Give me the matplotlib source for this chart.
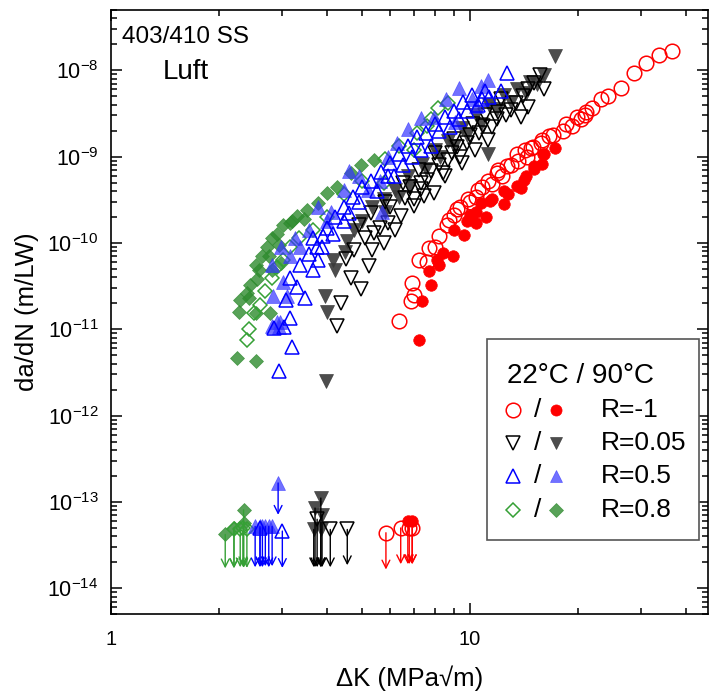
import numpy as np
import matplotlib
matplotlib.use("Agg")
import matplotlib.pyplot as plt
import matplotlib.ticker as mticker
from matplotlib.patches import Rectangle

plt.rcParams['font.family'] = ['Liberation Sans', 'DejaVu Sans']
plt.rcParams['mathtext.default'] = 'regular'

# ── data (dK in MPa*sqrt(m), da/dN in m/LW) ────────────────────────────────
# R=-1, 22 C (open circles) / 90 C (filled circles)
dk_r22 = [6.35, 6.85, 6.9, 7.2, 7.7, 8.2, 8.75, 9.2, 9.85, 10.5, 11.2, 11.9,
          12.7, 13.6, 14.4, 15.8, 16.6, 7.0, 7.6, 8.0, 8.6, 9.0, 9.4, 10.0,
          10.4, 10.8, 11.5, 12.3, 13.0, 13.5, 14.2, 15.0, 15.9, 17.0, 18.1,
          19.2, 20.4, 20.9, 21.9, 23.2, 24.2, 26.4, 28.7, 31.0, 33.7, 36.4,
          12.0, 14.8, 18.5, 19.8, 21.0]
dadn_r22 = [1.24e-11, 2.1e-11, 3.45e-11, 6.4e-11, 8.8e-11, 1.19e-10, 1.87e-10,
            2.45e-10, 3.2e-10, 4.15e-10, 5.2e-10, 6.5e-10, 7.7e-10, 8.8e-10,
            1.0e-9, 1.44e-9, 1.72e-9, 2.5e-11, 6.0e-11, 9.0e-11, 1.6e-10,
            2.1e-10, 2.6e-10, 3.0e-10, 3.4e-10, 4.5e-10, 4.8e-10, 6.0e-10,
            8.0e-10, 1.06e-9, 1.19e-9, 1.3e-9, 1.57e-9, 1.8e-9, 1.96e-9,
            2.25e-9, 2.7e-9, 3.07e-9, 3.67e-9, 4.6e-9, 5.0e-9, 6.25e-9,
            9.3e-9, 1.22e-8, 1.52e-8, 1.66e-8, 7.0e-10, 1.25e-9, 2.4e-9,
            2.9e-9, 3.3e-9]
dk_r90 = [7.23, 7.35, 7.8, 7.7, 8.1, 8.95, 8.4, 9.6, 10.4, 11.1, 10.0, 10.7,
          12.4, 11.5, 12.4, 13.9, 14.1, 15.1, 16.0, 16.1, 17.2, 15.1, 9.0,
          9.8, 11.4, 12.75, 13.5, 14.3, 15.9, 8.2, 10.4]
dadn_r90 = [7.6e-12, 2.1e-11, 3.3e-11, 4.7e-11, 6.4e-11, 7.1e-11, 7.7e-11,
            1.25e-10, 1.7e-10, 2.0e-10, 2.1e-10, 2.9e-10, 2.8e-10, 3.2e-10,
            4.0e-10, 4.3e-10, 5.4e-10, 7.1e-10, 1.06e-9, 1.06e-9, 1.26e-9,
            7.7e-10, 1.43e-10, 1.8e-10, 3.07e-10, 3.66e-10, 4.6e-10, 5.9e-10,
            8.3e-10, 5.6e-11, 2.3e-10]

# R=0.05, 22 C (open down triangles) / 90 C (filled down triangles)
dk_b22 = [4.27, 4.36, 4.96, 4.65, 5.23, 4.74, 5.34, 5.77, 6.16, 6.43, 5.9, 7.0,
          7.3, 7.0, 7.45, 7.95, 8.5, 9.5, 10.3, 5.6, 5.4, 15.7, 16.1, 14.5,
          13.9, 13.0, 12.2, 11.9, 10.9, 11.2, 9.8, 9.4, 8.7, 8.4, 7.6, 7.3,
          14.5, 15.1, 6.0, 6.6, 6.8, 7.8, 8.2, 8.9, 9.2, 10.0, 10.6, 11.5,
          12.0, 12.6, 13.4, 14.0, 11.0, 10.2, 9.0, 8.0, 7.2, 6.5, 5.8, 5.3,
          4.9, 5.1, 4.5]
dadn_b22 = [1.08e-11, 2.0e-11, 2.9e-11, 3.9e-11, 5.4e-11, 8.4e-11, 8.4e-11,
            1.0e-10, 1.4e-10, 2.04e-10, 1.7e-10, 3.2e-10, 5.0e-10, 2.7e-10,
            3.5e-10, 3.8e-10, 6.0e-10, 8.5e-10, 1.2e-9, 1.5e-10, 1.3e-10,
            8.9e-9, 6.0e-9, 3.8e-9, 2.9e-9, 3.5e-9, 4.6e-9, 2.7e-9, 2.25e-9,
            1.57e-9, 1.44e-9, 1.0e-9, 9.2e-10, 6.5e-10, 5.4e-10, 4.2e-10,
            6.0e-9, 7.1e-9, 2.6e-10, 3.3e-10, 4.4e-10, 6.8e-10, 8.0e-10,
            1.1e-9, 1.3e-9, 1.8e-9, 1.9e-9, 2.2e-9, 3.3e-9, 3.0e-9, 4.2e-9,
            5.0e-9, 3.0e-9, 2.4e-9, 1.6e-9, 1.1e-9, 7.0e-10, 5.0e-10, 3.0e-10,
            2.2e-10, 1.6e-10, 1.15e-10, 6.5e-11]
dk_b90 = [3.96, 4.0, 3.95, 4.2, 4.15, 4.48, 4.55, 4.75, 5.0, 5.33, 5.74, 6.17,
          6.73, 7.35, 8.0, 8.7, 9.5, 10.4, 11.3, 12.4, 13.5, 14.7, 16.1, 17.2,
          11.2, 15.4, 5.8, 6.35, 6.8, 7.55, 8.25, 9.0, 9.8, 10.7, 11.9, 13.0,
          14.3]
dadn_b90 = [2.5e-12, 1.6e-11, 2.45e-11, 4.9e-11, 6.3e-11, 7.9e-11, 1.05e-10,
            1.43e-10, 1.8e-10, 2.6e-10, 3.2e-10, 4.1e-10, 5.9e-10, 8.3e-10,
            1.19e-9, 1.5e-9, 2.14e-9, 3.0e-9, 4.0e-9, 5.2e-9, 6.1e-9, 7.4e-9,
            8.8e-9, 1.45e-8, 1.06e-9, 6.9e-9, 2.3e-10, 3.4e-10, 4.6e-10,
            7.2e-10, 1.0e-9, 1.34e-9, 1.8e-9, 2.4e-9, 3.6e-9, 4.3e-9, 5.5e-9]

# R=0.5, 22 C (open up triangles) / 90 C (filled up triangles)
dk_u22 = [2.93, 3.2, 3.16, 2.84, 3.04, 3.46, 3.07, 3.3, 3.65, 3.15, 3.78, 3.87,
          3.65, 4.0, 4.2, 4.45, 4.73, 5.0, 5.3, 5.65, 6.0, 6.35, 6.73, 7.1,
          7.55, 8.0, 8.5, 9.0, 9.55, 10.1, 11.0, 12.2, 12.7, 11.3, 7.8, 6.15,
          4.45, 4.15, 3.75, 3.35, 5.5, 5.9, 6.5, 6.9, 7.3, 8.2, 8.8, 9.3, 9.8,
          10.5, 10.8, 4.9, 4.6, 3.9, 3.55]
dadn_u22 = [3.3e-12, 6.3e-12, 1.36e-11, 1.03e-11, 1.05e-11, 2.3e-11, 2.2e-11,
            3.1e-11, 4.9e-11, 3.9e-11, 6.3e-11, 8.9e-11, 1.13e-10, 1.5e-10,
            2.0e-10, 2.6e-10, 3.4e-10, 4.4e-10, 5.2e-10, 6.6e-10, 8.4e-10,
            1.06e-9, 1.34e-9, 1.7e-9, 1.9e-9, 2.4e-9, 2.85e-9, 3.4e-9, 4.3e-9,
            5.2e-9, 5.8e-9, 5.8e-9, 9.3e-9, 4.9e-9, 1.34e-9, 5.9e-10, 1.8e-10,
            1.27e-10, 8.9e-11, 5.5e-11, 4.0e-10, 6.0e-10, 8.0e-10, 1.0e-9,
            1.2e-9, 2.0e-9, 2.2e-9, 2.7e-9, 3.4e-9, 4.0e-9, 4.6e-9, 3.0e-10,
            2.2e-10, 1.2e-10, 7.5e-11]
dk_u90 = [2.94, 3.1, 2.96, 2.83, 2.81, 2.9, 4.6, 4.9, 5.9, 6.26, 6.7, 7.3,
          7.95, 8.55, 9.1, 10.1, 9.34, 10.7, 11.2, 10.4, 5.2, 5.6, 4.45, 3.76,
          4.1, 3.55, 3.25, 4.0, 2.97, 2.8, 3.15, 3.02, 3.35, 5.7]
dadn_u90 = [1.07e-11, 2.4e-11, 1.2e-11, 2.4e-11, 1.1e-11, 1.2e-11, 6.8e-10,
            5.9e-10, 1.0e-9, 1.44e-9, 2.1e-9, 2.8e-9, 2.9e-9, 4.6e-9, 2.55e-9,
            4.6e-9, 6.25e-9, 6.5e-9, 7.8e-9, 3.85e-9, 4.1e-10, 5.2e-10,
            4.1e-10, 2.6e-10, 2.3e-10, 1.43e-10, 1.13e-10, 1.8e-10, 8.9e-11,
            5.6e-11, 7.1e-11, 3.5e-11, 8.9e-11, 2.3e-10]

# R=0.8, 22 C (open diamonds) / 90 C (filled diamonds)
dk_g22 = [2.39, 2.43, 2.5, 2.6, 2.68, 2.81, 2.89, 3.02, 3.15, 3.34, 3.65, 4.0,
          4.45, 5.0, 5.8, 6.35, 7.1, 7.8, 8.12, 8.67, 7.6, 7.0, 5.75]
dadn_g22 = [7.5e-12, 1.0e-11, 1.55e-11, 1.9e-11, 2.8e-11, 3.9e-11, 5.3e-11,
            6.3e-11, 9.0e-11, 1.13e-10, 1.43e-10, 2.0e-10, 3.66e-10, 5.2e-10,
            9.5e-10, 1.34e-9, 1.9e-9, 2.7e-9, 3.7e-9, 4.2e-9, 2.25e-9, 1.2e-9,
            5.0e-10]
dk_g90 = [2.24, 2.54, 2.27, 2.42, 2.44, 2.58, 2.75, 2.93, 3.16, 3.3, 3.52, 3.76,
          4.0, 2.78, 2.97, 2.72, 2.55, 2.81, 4.96, 5.4, 4.65, 4.27, 3.44, 3.2,
          3.02, 2.89, 2.81, 2.64, 2.53, 2.39, 2.29, 2.53]
dadn_g90 = [4.7e-12, 4.3e-12, 1.6e-11, 2.3e-11, 3.3e-11, 4.9e-11, 7.0e-11,
            9.6e-11, 1.72e-10, 2.04e-10, 2.43e-10, 2.91e-10, 3.8e-10, 1.55e-11,
            5.9e-11, 9.1e-11, 3.8e-11, 4.9e-11, 8.1e-10, 9.2e-10, 6.5e-10,
            4.5e-10, 1.9e-10, 1.8e-10, 1.6e-10, 1.26e-10, 1.14e-10, 7.1e-11,
            5.6e-11, 2.6e-11, 2.2e-11, 1.55e-11]

# run-outs (no growth): marker value and where the arrow ends
run_r22_dk, run_r22_dadn, run_r22_tip = [5.83, 6.41, 6.77, 6.9], [4.4e-14, 5.0e-14, 5.0e-14, 5.0e-14], [1.65e-14, 1.9e-14, 1.9e-14, 1.9e-14]
run_r90_dk, run_r90_dadn, run_r90_tip = [6.71, 6.9], [6.0e-14, 6.0e-14], [1.9e-14, 1.9e-14]
run_b22_dk, run_b22_dadn, run_b22_tip = [3.75, 4.08, 4.55], [6.3e-14, 4.8e-14, 4.8e-14], [1.75e-14, 1.75e-14, 1.85e-14]
run_b90_dk, run_b90_dadn, run_b90_tip = [3.84, 3.7, 3.87, 3.67, 3.84], [1.11e-13, 8.5e-14, 7.1e-14, 4.8e-14, 4.8e-14], [1.75e-14, 1.75e-14, 1.75e-14, 1.75e-14, 1.75e-14]
run_u22_dk, run_u22_dadn, run_u22_tip = [2.6, 3.0], [5.0e-14, 4.6e-14], [1.75e-14, 1.72e-14]
run_u90_dk, run_u90_dadn, run_u90_tip = [2.52, 2.6, 2.64, 2.69, 2.75, 2.81, 2.92], [5.2e-14] * 6 + [1.66e-13], [1.75e-14, 1.8e-14, 1.75e-14, 1.8e-14, 1.75e-14, 1.8e-14, 7.1e-14]
run_g22_dk, run_g22_dadn, run_g22_tip = [2.2, 2.29, 2.39, 2.33], [4.8e-14, 4.8e-14, 4.8e-14, 5.0e-14], [1.72e-14, 1.75e-14, 1.72e-14, 1.8e-14]
run_g90_dk, run_g90_dadn, run_g90_tip = [2.08, 2.34, 2.34, 2.2], [4.2e-14, 8.1e-14, 5.7e-14, 5.0e-14], [1.7e-14, 1.72e-14, 1.75e-14, 1.7e-14]

legend_labels = ['R=-1', 'R=0.05', 'R=0.5', 'R=0.8']

RED = '#ff0000'
BLACK = '#000000'
GRAY = '#3a3a3a'
BLUE = '#0000ff'
BLUE_F = '#3535ff'
GREEN = '#35a035'
GREEN_F = '#2e8b2e'

# (dk, dadn, marker, ms, open?, color, alpha)
series = [
    (dk_g90, dadn_g90, 'D', 7.0, False, GREEN_F, 0.8),
    (dk_g22, dadn_g22, 'D', 7.0, True, GREEN, 1.0),
    (dk_b90, dadn_b90, 'v', 9.5, False, GRAY, 0.9),
    (dk_b22, dadn_b22, 'v', 10.5, True, BLACK, 1.0),
    (dk_u90, dadn_u90, '^', 9.5, False, BLUE_F, 0.7),
    (dk_u22, dadn_u22, '^', 10.5, True, BLUE, 1.0),
    (dk_r90, dadn_r90, 'o', 8.3, False, RED, 1.0),
    (dk_r22, dadn_r22, 'o', 10.5, True, RED, 1.0),
]
runouts = [
    (run_g90_dk, run_g90_dadn, run_g90_tip, 'D', 7.0, False, GREEN_F, 0.8),
    (run_g22_dk, run_g22_dadn, run_g22_tip, 'D', 7.0, True, GREEN, 1.0),
    (run_b90_dk, run_b90_dadn, run_b90_tip, 'v', 9.5, False, GRAY, 0.9),
    (run_b22_dk, run_b22_dadn, run_b22_tip, 'v', 10.5, True, BLACK, 1.0),
    (run_u90_dk, run_u90_dadn, run_u90_tip, '^', 9.5, False, BLUE_F, 0.7),
    (run_u22_dk, run_u22_dadn, run_u22_tip, '^', 10.5, True, BLUE, 1.0),
    (run_r90_dk, run_r90_dadn, run_r90_tip, 'o', 8.3, False, RED, 1.0),
    (run_r22_dk, run_r22_dadn, run_r22_tip, 'o', 10.5, True, RED, 1.0),
]


def marker_kw(marker, ms, hollow, color, alpha):
    if hollow:
        return dict(marker=marker, ms=ms, mfc='none', mec=color, mew=1.1,
                    alpha=alpha, linestyle='none')
    return dict(marker=marker, ms=ms, mfc=color, mec=color, mew=0.5,
                alpha=alpha, linestyle='none')


fig = plt.figure(figsize=(7.09, 6.93), dpi=100)
ax = fig.add_axes([0.1566, 0.1136, 0.842, 0.872])
ax.set_xscale('log')
ax.set_yscale('log')

for dk, dadn, m, ms, hollow, c, a in series:
    ax.plot(dk, dadn, **marker_kw(m, ms, hollow, c, a))

# run-out arrows
arrow_col = {GREEN_F: GREEN, GRAY: BLACK, BLUE_F: BLUE}
for dk, dadn, tip, m, ms, hollow, c, a in runouts:
    for x, y, t in zip(dk, dadn, tip):
        ax.annotate('', xy=(x, t), xytext=(x, y), xycoords='data',
                    arrowprops=dict(arrowstyle='->', color=arrow_col.get(c, c),
                                    lw=1.0, shrinkA=0, shrinkB=0,
                                    mutation_scale=14))
    ax.plot(dk, dadn, **marker_kw(m, ms, hollow, c, a))

ax.set_xlim(1, 46)
ax.set_ylim(5e-15, 5e-8)

ax.xaxis.set_major_locator(mticker.LogLocator(base=10))
ax.xaxis.set_minor_locator(mticker.LogLocator(base=10, subs=np.arange(2, 10)))
ax.xaxis.set_major_formatter(mticker.FuncFormatter(lambda v, p: f"{v:g}"))
ax.xaxis.set_minor_formatter(mticker.NullFormatter())
ax.yaxis.set_major_locator(mticker.LogLocator(base=10, numticks=20))
ax.yaxis.set_minor_locator(mticker.LogLocator(base=10, subs=np.arange(2, 10), numticks=20))
ax.yaxis.set_minor_formatter(mticker.NullFormatter())

ax.tick_params(which='both', direction='in', top=True, right=True, width=1.1)
ax.tick_params(which='major', length=8)
ax.tick_params(which='minor', length=4.3)
ax.tick_params(axis='x', which='major', pad=11, labelsize=14.5)
ax.tick_params(axis='y', which='major', pad=9, labelsize=15.5)
for sp in ax.spines.values():
    sp.set_linewidth(1.2)

ax.set_xlabel('ΔK (MPa√m)', fontsize=18.5, labelpad=12)
ax.set_ylabel('da/dN (m/LW)', fontsize=18.5, labelpad=6)

ax.text(0.018, 0.9545, '403/410 SS', transform=ax.transAxes, fontsize=17.5,
        ha='left', va='center')
ax.text(0.087, 0.898, 'Luft', transform=ax.transAxes, fontsize=20,
        ha='left', va='center')

# hand-built legend box
ax.add_patch(Rectangle((0.630, 0.123), 0.355, 0.332, transform=ax.transAxes,
                       facecolor='white', edgecolor='#555555', lw=1.2, zorder=5))
ax.text(0.663, 0.395, '22°C / 90°C', transform=ax.transAxes, fontsize=20,
        ha='left', va='center', zorder=6)
leg_open = [('o', 10.5, RED), ('v', 9.5, BLACK), ('^', 9.5, BLUE), ('D', 7, GREEN)]
leg_fill = [('o', 8, RED, 1.0), ('v', 8.5, GRAY, 0.9), ('^', 8.5, BLUE_F, 0.7), ('D', 6.8, GREEN_F, 0.8)]
row_y = [0.338, 0.283, 0.228, 0.173]
for (mo, mso, co), (mf, msf, cf, af), lab, yy in zip(leg_open, leg_fill, legend_labels, row_y):
    ax.plot([0.673], [yy], transform=ax.transAxes, zorder=6, clip_on=False,
            **marker_kw(mo, mso, True, co, 1.0))
    ax.text(0.714, yy, '/', transform=ax.transAxes, fontsize=19,
            ha='center', va='center', zorder=6)
    ax.plot([0.745], [yy], transform=ax.transAxes, zorder=6, clip_on=False,
            **marker_kw(mf, msf, False, cf, af))
    ax.text(0.820, yy, lab, transform=ax.transAxes, fontsize=19,
            ha='left', va='center', zorder=6)

fig.savefig('out.png', dpi=100)
